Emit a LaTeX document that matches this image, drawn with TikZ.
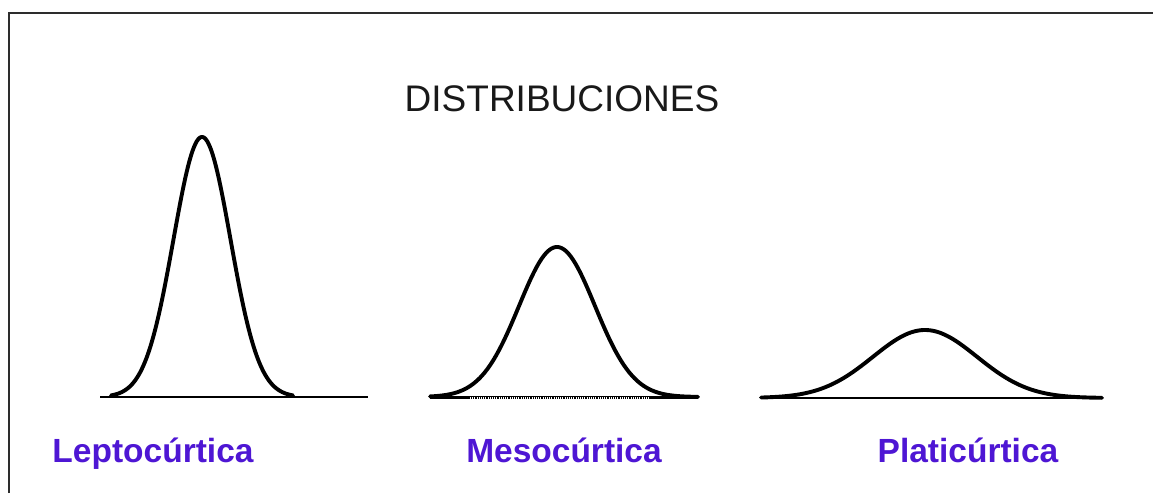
\documentclass[tikz,border=0pt]{standalone}
\usepackage{fontspec}
\setmainfont{Liberation Sans}
\definecolor{labelpurple}{RGB}{78,22,212}
\definecolor{framegray}{RGB}{45,45,45}
\tikzset{
  curve/.style={line width=3.9pt, black, line join=round, line cap=round},
  baseline/.style={line width=1.4pt, black},
  kindlabel/.style={font=\fontsize{33.5}{36}\selectfont\bfseries, text=labelpurple, inner sep=0pt, anchor=base},
  titlelabel/.style={font=\fontsize{37}{40}\selectfont, text=black!90, inner sep=0pt, anchor=base},
  framebox/.style={line width=2.6pt, framegray}
}
\begin{document}
\begin{tikzpicture}[x=1pt,y=-1pt]
\useasboundingbox (0,0) rectangle (1153,493);
\fill[white] (0,0) rectangle (1153,493);
% frame (top and left edges)
\draw[framebox] (9,493) -- (9,13) -- (1153,13);
% title
\node[titlelabel] (title) at (562,111) {DISTRIBUCIONES};
% Leptocurtica
\draw[baseline] (100,397) -- (368,397);
\draw[curve] plot[domain=-91:91, samples=120, smooth] ({202+\x},{397-260*exp(-0.5*(\x/28.5)*(\x/28.5))});
% Mesocurtica
\draw[line width=3pt] (430,397) -- (698,397);
\draw[line width=2pt, white, dash pattern=on 1pt off 1.2pt] (470,398.3) -- (650,398.3);
\draw[curve] plot[domain=-127:141, samples=140, smooth] ({557+\x},{397-150*exp(-0.5*(\x/38)*(\x/38))});
% Platicurtica
\draw[baseline] (761,398) -- (1102,398);
\draw[curve] plot[domain=-164:177, samples=140, smooth] ({925+\x},{398-68*exp(-0.5*(\x/52)*(\x/52))});
% labels
\node[kindlabel] (lepto) at (153,462) {Leptocúrtica};
\node[kindlabel] (meso) at (564,462) {Mesocúrtica};
\node[kindlabel] (plati) at (968,462) {Platicúrtica};
\end{tikzpicture}
\end{document}
